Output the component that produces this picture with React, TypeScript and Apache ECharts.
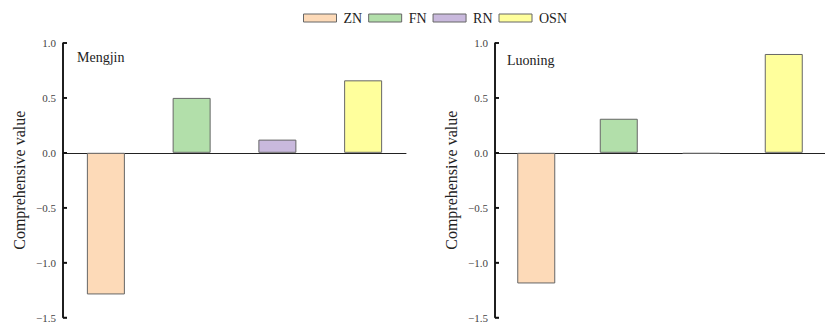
import React, { useEffect, useRef } from "react";
import * as echarts from "echarts";

const categories = ["ZN", "FN", "RN", "OSN"];
const mengjinValues = [-1.29, 0.5, 0.12, 0.66];
const luoningValues = [-1.19, 0.31, -0.01, 0.9];
const regionNames = ["Mengjin", "Luoning"];
const colors = ["#FDDAB8", "#B2DFAA", "#C9B9DD", "#FFFF9C"];
const yTicks = [-1.5, -1.0, -0.5, 0.0, 0.5, 1.0];

const FONT = "Liberation Serif";

export default function App() {
  const ref = useRef<HTMLDivElement>(null);
  useEffect(() => {
    if (!ref.current) return;
    const chart = echarts.init(ref.current, null, { renderer: "svg" });
    const grids = [
      { left: 63, top: 43, width: 343, height: 275 },
      { left: 495, top: 43, width: 342, height: 275 },
    ];
    const xAxes = grids.map((_, i) => ({
      type: "category",
      gridIndex: i,
      data: categories,
      axisLine: { show: true, onZero: true, lineStyle: { color: "#222", width: 1 } },
      axisTick: { show: false },
      axisLabel: { show: false },
      splitLine: { show: false },
    }));
    const yAxes = grids.map((_, i) => ({
      type: "value",
      gridIndex: i,
      min: -1.5,
      max: 1.0,
      interval: 0.5,
      name: "Comprehensive value",
      nameLocation: "middle",
      nameRotate: 90,
      nameGap: 36,
      nameTextStyle: { fontFamily: FONT, fontSize: 16, color: "#222" },
      axisLine: { show: true, onZero: false, lineStyle: { color: "#111", width: 1.5 } },
      axisTick: { show: true, inside: true, length: 4, lineStyle: { color: "#111", width: 1.5 } },
      axisLabel: {
        show: true,
        fontFamily: FONT,
        fontSize: 11,
        color: "#444",
        margin: 7,
        formatter: (v: number) => (v < 0 ? "\u2212" + Math.abs(v).toFixed(1) : v.toFixed(1)),
      },
      splitLine: { show: false },
    }));
    const datasets = [mengjinValues, luoningValues];
    const series: any[] = [];
    datasets.forEach((vals, gi) => {
      categories.forEach((cat, ci) => {
        const data = categories.map((_, k) => (k === ci ? vals[ci] : null));
        series.push({
          type: "bar",
          name: cat,
          xAxisIndex: gi,
          yAxisIndex: gi,
          data,
          barWidth: 38,
          barGap: "-100%",
          itemStyle: { color: colors[ci], borderColor: "#666", borderWidth: 1 },
        });
      });
    });
    chart.setOption({
      animation: false,
      color: colors,
      legend: {
        data: categories,
        left: 298,
        top: 6,
        itemWidth: 33,
        itemHeight: 8,
        itemGap: 6,
        icon: "rect",
        itemStyle: { borderColor: "#666", borderWidth: 1 },
        textStyle: { fontFamily: FONT, fontSize: 14, color: "#222", padding: [0, 0, 0, 2] },
      },
      title: [
        { text: regionNames[0], left: 72, top: 45, textStyle: { fontFamily: FONT, fontSize: 14, fontWeight: "normal", color: "#222" } },
        { text: regionNames[1], left: 502, top: 48, textStyle: { fontFamily: FONT, fontSize: 14, fontWeight: "normal", color: "#222" } },
      ],
      grid: grids,
      xAxis: xAxes,
      yAxis: yAxes,
      series,
    });

    // Overlay the vertical axis line and inward ticks, positioned through the axes' own scales.
    const elements: any[] = [];
    grids.forEach((_, i) => {
      const c0 = chart.convertToPixel({ xAxisIndex: i } as any, 0) as number;
      const c1 = chart.convertToPixel({ xAxisIndex: i } as any, 1) as number;
      const xLeft = c0 - (c1 - c0) / 2;
      const yTop = chart.convertToPixel({ yAxisIndex: i } as any, yTicks[yTicks.length - 1]) as number;
      const yBot = chart.convertToPixel({ yAxisIndex: i } as any, yTicks[0]) as number;
      elements.push({
        type: "line",
        z: 100,
        silent: true,
        shape: { x1: xLeft, y1: yTop, x2: xLeft, y2: yBot },
        style: { stroke: "#111", lineWidth: 1.5 },
      });
      yTicks.forEach((t) => {
        const y = chart.convertToPixel({ yAxisIndex: i } as any, t) as number;
        elements.push({
          type: "line",
          z: 100,
          silent: true,
          shape: { x1: xLeft, y1: y, x2: xLeft + 4, y2: y },
          style: { stroke: "#111", lineWidth: 1.5 },
        });
      });
    });
    chart.setOption({ graphic: elements });

    return () => chart.dispose();
  }, []);
  return (
    <div
      ref={ref}
      style={{ position: "fixed", left: 0, top: 0, width: 825, height: 323, background: "#fff" }}
    />
  );
}
